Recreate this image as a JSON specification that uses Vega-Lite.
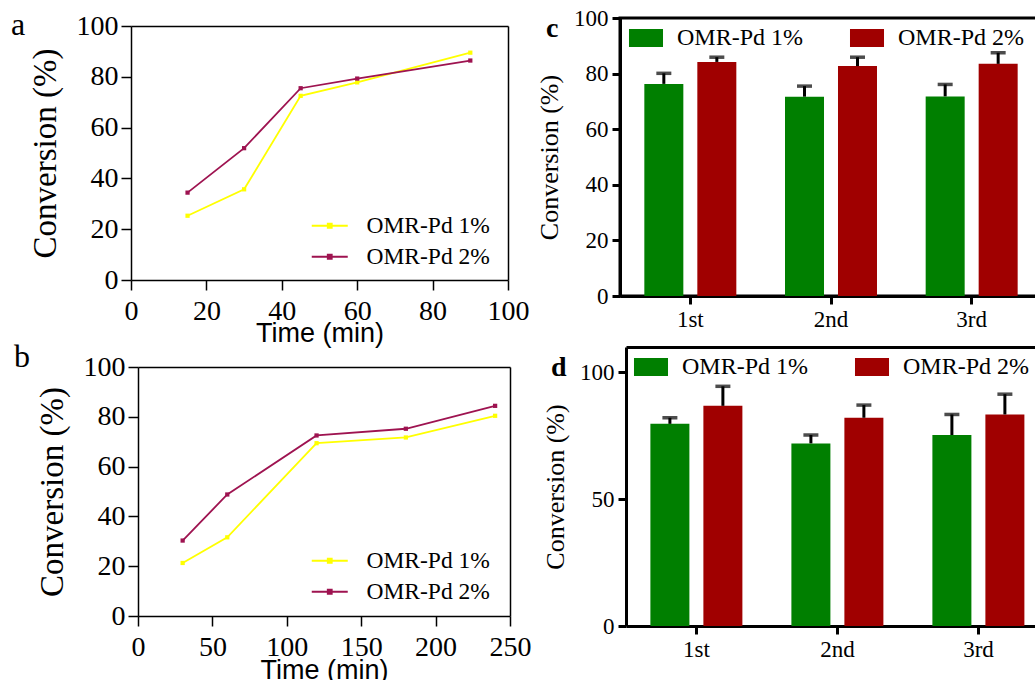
{
  "$schema": "https://vega.github.io/schema/vega-lite/v6.json",
  "padding": {"left": 11, "top": 5, "right": 0, "bottom": 0},
  "background": "white",
  "config": {
    "font": "Liberation Serif",
    "axis": {"grid": false, "domainColor": "black", "tickColor": "black", "labelColor": "black", "titleColor": "black", "labelFont": "Liberation Serif", "titleFont": "Liberation Serif", "titleFontWeight": "normal", "labelFlush": false, "labelOverlap": false},
    "legend": {"labelFont": "Liberation Serif", "labelColor": "black", "labelLimit": 400, "padding": 0, "title": null},
    "title": {"font": "Liberation Serif", "color": "black"}
  },
  "datasets": {
    "lineA": [
      {"time": 15, "conv": 25.3, "catalyst": "OMR-Pd 1%"},
      {"time": 30, "conv": 35.7, "catalyst": "OMR-Pd 1%"},
      {"time": 45, "conv": 72.5, "catalyst": "OMR-Pd 1%"},
      {"time": 60, "conv": 77.8, "catalyst": "OMR-Pd 1%"},
      {"time": 90, "conv": 89.5, "catalyst": "OMR-Pd 1%"},
      {"time": 15, "conv": 34.4, "catalyst": "OMR-Pd 2%"},
      {"time": 30, "conv": 51.9, "catalyst": "OMR-Pd 2%"},
      {"time": 45, "conv": 75.5, "catalyst": "OMR-Pd 2%"},
      {"time": 60, "conv": 79.3, "catalyst": "OMR-Pd 2%"},
      {"time": 90, "conv": 86.4, "catalyst": "OMR-Pd 2%"}
    ],
    "lineB": [
      {"time": 30, "conv": 21.3, "catalyst": "OMR-Pd 1%"},
      {"time": 60, "conv": 31.6, "catalyst": "OMR-Pd 1%"},
      {"time": 120, "conv": 69.4, "catalyst": "OMR-Pd 1%"},
      {"time": 180, "conv": 71.7, "catalyst": "OMR-Pd 1%"},
      {"time": 240, "conv": 80.4, "catalyst": "OMR-Pd 1%"},
      {"time": 30, "conv": 30.3, "catalyst": "OMR-Pd 2%"},
      {"time": 60, "conv": 48.8, "catalyst": "OMR-Pd 2%"},
      {"time": 120, "conv": 72.5, "catalyst": "OMR-Pd 2%"},
      {"time": 180, "conv": 75.2, "catalyst": "OMR-Pd 2%"},
      {"time": 240, "conv": 84.4, "catalyst": "OMR-Pd 2%"}
    ],
    "barC": [
      {"cycle": "1st", "catalyst": "OMR-Pd 1%", "conv": 76.3, "upper": 80.1},
      {"cycle": "1st", "catalyst": "OMR-Pd 2%", "conv": 84.2, "upper": 85.9},
      {"cycle": "2nd", "catalyst": "OMR-Pd 1%", "conv": 71.7, "upper": 75.5},
      {"cycle": "2nd", "catalyst": "OMR-Pd 2%", "conv": 82.7, "upper": 85.9},
      {"cycle": "3rd", "catalyst": "OMR-Pd 1%", "conv": 71.8, "upper": 76.1},
      {"cycle": "3rd", "catalyst": "OMR-Pd 2%", "conv": 83.5, "upper": 87.5}
    ],
    "barD": [
      {"cycle": "1st", "catalyst": "OMR-Pd 1%", "conv": 79.7, "upper": 82.1},
      {"cycle": "1st", "catalyst": "OMR-Pd 2%", "conv": 86.8, "upper": 94.5},
      {"cycle": "2nd", "catalyst": "OMR-Pd 1%", "conv": 72.0, "upper": 75.3},
      {"cycle": "2nd", "catalyst": "OMR-Pd 2%", "conv": 82.1, "upper": 87.1},
      {"cycle": "3rd", "catalyst": "OMR-Pd 1%", "conv": 75.3, "upper": 83.4},
      {"cycle": "3rd", "catalyst": "OMR-Pd 2%", "conv": 83.4, "upper": 91.4}
    ]
  },
  "columns": 2,
  "spacing": {"row": 51, "column": 110},
  "bounds": "flush",
  "align": "each",
  "resolve": {"scale": {"color": "independent"}, "legend": {"color": "independent"}},
  "concat": [
    {
      "width": 377, "height": 262,
      "title": {"text": "a", "anchor": "start", "frame": "group", "dx": -120, "dy": 55, "offset": 0, "fontSize": 32, "fontWeight": "normal", "baseline": "alphabetic"},
      "view": {"stroke": null},
      "data": {"name": "lineA"},
      "resolve": {"axis": {"x": "independent", "y": "independent"}},
      "layer": [
        {
          "mark": {"type": "line", "strokeWidth": 1.8, "point": {"shape": "square", "size": 18, "filled": true}},
          "encoding": {
            "x": {"field": "time", "type": "quantitative", "scale": {"domain": [0, 100], "nice": false}, "axis": {"values": [0, 20, 40, 60, 80, 100], "title": "Time (min)", "titleFont": "Liberation Sans", "titleFontSize": 27, "labelFontSize": 28, "tickSize": 10, "tickWidth": 1.5, "domainWidth": 1.5, "labelPadding": 7, "titlePadding": -5}},
            "y": {"field": "conv", "type": "quantitative", "scale": {"domain": [0, 100], "nice": false, "range": [262, 8]}, "axis": {"values": [0, 20, 40, 60, 80, 100], "title": "Conversion (%)", "titleFontSize": 33, "labelFontSize": 28, "tickSize": 10, "tickWidth": 1.5, "domainWidth": 1.5, "labelPadding": 3, "titlePadding": 14}},
            "color": {"field": "catalyst", "type": "nominal", "scale": {"domain": ["OMR-Pd 1%", "OMR-Pd 2%"], "range": ["#FFFF00", "#9E1350"]}, "legend": {"orient": "none", "legendX": 187, "legendY": 196, "direction": "vertical", "symbolType": "M-3.6,0L3.6,0M-0.4,-0.4L0.4,-0.4L0.4,0.4L-0.4,0.4Z", "symbolSize": 100, "symbolStrokeWidth": 1.8, "labelFontSize": 23.5, "labelOffset": 25, "rowPadding": 6}}
          }
        },
        {
          "mark": {"type": "point", "opacity": 0},
          "encoding": {
            "x": {"field": "time", "type": "quantitative", "axis": {"orient": "top", "labels": false, "ticks": false, "title": null, "domainWidth": 1.5, "offset": -8}},
            "y": {"field": "conv", "type": "quantitative", "axis": {"orient": "right", "labels": false, "ticks": false, "title": null, "domainWidth": 1.5}}
          }
        }
      ]
    },
    {
      "width": 422, "height": 278,
      "title": {"text": "c", "anchor": "start", "frame": "group", "dx": -74, "dy": 58, "offset": 0, "fontSize": 28, "fontWeight": "bold", "baseline": "alphabetic"},
      "view": {"stroke": "black", "strokeWidth": 3},
      "data": {"name": "barC"},
      "encoding": {
        "x": {"field": "cycle", "type": "nominal", "sort": ["1st", "2nd", "3rd"], "scale": {"paddingInner": 0.346, "paddingOuter": 0.173}, "axis": {"title": null, "labelAngle": 0, "labelFontSize": 23, "tickSize": 8, "tickWidth": 3, "domainWidth": 3, "labelPadding": 4}},
        "xOffset": {"field": "catalyst", "type": "nominal", "sort": ["OMR-Pd 1%", "OMR-Pd 2%"], "scale": {"paddingInner": 0.264, "paddingOuter": 0}}
      },
      "layer": [
        {"mark": {"type": "bar"}, "encoding": {
          "y": {"field": "conv", "type": "quantitative", "scale": {"domain": [0, 100], "nice": false}, "axis": {"values": [0, 20, 40, 60, 80, 100], "title": "Conversion (%)", "titleFontSize": 26, "labelFontSize": 23, "tickSize": 8, "tickWidth": 3, "domainWidth": 3, "labelPadding": 4, "titlePadding": 11}},
          "color": {"field": "catalyst", "type": "nominal", "scale": {"domain": ["OMR-Pd 1%", "OMR-Pd 2%"], "range": ["#007F00", "#A00000"]}, "legend": {"orient": "none", "legendX": 14, "legendY": 8, "direction": "horizontal", "symbolType": "M-1.89,-1L1.89,-1L1.89,1L-1.89,1Z", "symbolSize": 324, "symbolStrokeWidth": 0, "labelFontSize": 24, "labelOffset": 19, "columnPadding": 45}}
        }},
        {"mark": {"type": "rule", "color": "black", "strokeWidth": 3}, "encoding": {"y": {"field": "conv", "type": "quantitative"}, "y2": {"field": "upper"}}},
        {"mark": {"type": "tick", "color": "black", "thickness": 3.5, "size": 15}, "encoding": {"y": {"field": "upper", "type": "quantitative"}}}
      ]
    },
    {
      "width": 379, "height": 269,
      "title": {"text": "b", "anchor": "start", "frame": "group", "dx": -117, "dy": 52, "offset": 0, "fontSize": 32, "fontWeight": "normal", "baseline": "alphabetic"},
      "view": {"stroke": null},
      "data": {"name": "lineB"},
      "resolve": {"axis": {"x": "independent", "y": "independent"}},
      "layer": [
        {
          "mark": {"type": "line", "strokeWidth": 1.8, "point": {"shape": "square", "size": 18, "filled": true}},
          "encoding": {
            "x": {"field": "time", "type": "quantitative", "scale": {"domain": [0, 250], "nice": false, "range": [7, 379]}, "axis": {"values": [0, 50, 100, 150, 200, 250], "title": "Time (min)", "titleFont": "Liberation Sans", "titleFontSize": 27, "labelFontSize": 28, "tickSize": 10, "tickWidth": 1.5, "domainWidth": 1.5, "labelPadding": 7, "titlePadding": -4}},
            "y": {"field": "conv", "type": "quantitative", "scale": {"domain": [0, 100], "nice": false, "range": [269, 20]}, "axis": {"values": [0, 20, 40, 60, 80, 100], "title": "Conversion (%)", "titleFontSize": 33, "labelFontSize": 28, "tickSize": 10, "tickWidth": 1.5, "domainWidth": 1.5, "labelPadding": 3, "titlePadding": 14, "offset": -7}},
            "color": {"field": "catalyst", "type": "nominal", "scale": {"domain": ["OMR-Pd 1%", "OMR-Pd 2%"], "range": ["#FFFF00", "#9E1350"]}, "legend": {"orient": "none", "legendX": 187, "legendY": 202, "direction": "vertical", "symbolType": "M-3.6,0L3.6,0M-0.4,-0.4L0.4,-0.4L0.4,0.4L-0.4,0.4Z", "symbolSize": 100, "symbolStrokeWidth": 1.8, "labelFontSize": 23.5, "labelOffset": 25, "rowPadding": 6}}
          }
        },
        {
          "mark": {"type": "point", "opacity": 0},
          "encoding": {
            "x": {"field": "time", "type": "quantitative", "axis": {"orient": "top", "labels": false, "ticks": false, "title": null, "domainWidth": 1.5, "offset": -20}},
            "y": {"field": "conv", "type": "quantitative", "axis": {"orient": "right", "labels": false, "ticks": false, "title": null, "domainWidth": 1.5}}
          }
        }
      ]
    },
    {
      "width": 429, "height": 279,
      "title": {"text": "d", "anchor": "start", "frame": "group", "dx": -69, "dy": 57, "offset": 0, "fontSize": 28, "fontWeight": "bold", "baseline": "alphabetic"},
      "view": {"stroke": null},
      "data": {"name": "barD"},
      "resolve": {"axis": {"x": "independent"}},
      "encoding": {
        "xOffset": {"field": "catalyst", "type": "nominal", "sort": ["OMR-Pd 1%", "OMR-Pd 2%"], "scale": {"paddingInner": 0.264, "paddingOuter": 0}}
      },
      "layer": [
        {"mark": {"type": "bar"}, "encoding": {
          "x": {"field": "cycle", "type": "nominal", "sort": ["1st", "2nd", "3rd"], "scale": {"paddingInner": 0.346, "paddingOuter": 0.173, "range": [6, 429]}, "axis": {"title": null, "labelAngle": 0, "labelFontSize": 23, "tickSize": 8, "tickWidth": 3, "domainWidth": 3, "labelPadding": 4}},
          "y": {"field": "conv", "type": "quantitative", "scale": {"domain": [0, 110], "nice": false}, "axis": {"values": [0, 50, 100], "title": "Conversion (%)", "titleFontSize": 26, "labelFontSize": 23, "tickSize": 8, "tickWidth": 3, "domainWidth": 3, "labelPadding": 4, "titlePadding": 11, "offset": -6}},
          "color": {"field": "catalyst", "type": "nominal", "scale": {"domain": ["OMR-Pd 1%", "OMR-Pd 2%"], "range": ["#007F00", "#A00000"]}, "legend": {"orient": "none", "legendX": 19, "legendY": 8, "direction": "horizontal", "symbolType": "M-1.89,-1L1.89,-1L1.89,1L-1.89,1Z", "symbolSize": 324, "symbolStrokeWidth": 0, "labelFontSize": 24, "labelOffset": 19, "columnPadding": 45}}
        }},
        {"mark": {"type": "rule", "color": "black", "strokeWidth": 3}, "encoding": {"x": {"field": "cycle", "type": "nominal", "sort": ["1st", "2nd", "3rd"], "axis": null}, "y": {"field": "conv", "type": "quantitative"}, "y2": {"field": "upper"}}},
        {"mark": {"type": "tick", "color": "black", "thickness": 3.5, "size": 15}, "encoding": {"x": {"field": "cycle", "type": "nominal", "sort": ["1st", "2nd", "3rd"], "axis": {"orient": "top", "labels": false, "ticks": false, "title": null, "domainWidth": 3}}, "y": {"field": "upper", "type": "quantitative"}}}
      ]
    }
  ]
}
